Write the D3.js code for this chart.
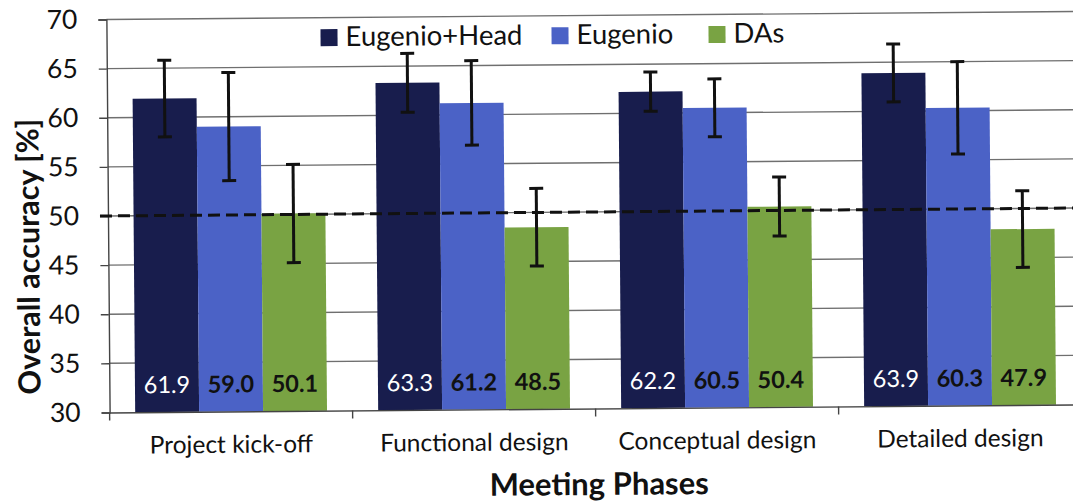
<!DOCTYPE html>
<html>
<head>
<meta charset="utf-8">
<script src="https://cdn.jsdelivr.net/npm/d3@7"></script>
<style>
  html, body { margin: 0; padding: 0; background: #fff; }
  svg { display: block; font-family: Lato, "Open Sans", sans-serif; }
</style>
</head>
<body>
<svg id="chart" width="1073" height="504"></svg>
<script>
// Meeting phases on the x axis, one bar per method in each phase
const phases = ["Project kick-off", "Functional design", "Conceptual design", "Detailed design"];
const seriesNames = ["Eugenio+Head", "Eugenio", "DAs"];

// Overall accuracy [%] per phase
const eugenioHead = [61.9, 63.3, 62.2, 63.9];
const eugenio = [59.0, 61.2, 60.5, 60.3];
const das = [50.1, 48.5, 50.4, 47.9];

// Half-length of the error bars per phase
const eugenioHeadErr = [3.9, 3.0, 2.0, 2.95];
const eugenioErr = [5.5, 4.3, 2.95, 4.7];
const dasErr = [5.0, 3.95, 3.0, 3.9];

const yTicks = [30, 35, 40, 45, 50, 55, 60, 65, 70];
const chanceLevel = 50;

const seriesColors = ["#181d4d", "#4b62c6", "#79a343"];
const labelColors = ["#ffffff", "#111111", "#111111"];
const labelWeights = ["normal", "bold", "bold"];

const seriesValues = [eugenioHead, eugenio, das];
const seriesErrors = [eugenioHeadErr, eugenioErr, dasErr];

const rows = [];
phases.forEach((p, i) => {
  seriesNames.forEach((s, j) => {
    rows.push({ phase: p, series: s, si: j, value: seriesValues[j][i], err: seriesErrors[j][i] });
  });
});

const plot = { left: 108, right: 1080, top: 15.5, bottom: 408.5 };

const svg = d3.select("#chart");
// the whole figure sits slightly tilted
const root = svg.append("g").attr("transform", "rotate(-0.47, 590, 215)");

const x = d3.scaleBand().domain(phases).range([plot.left, plot.right]).paddingInner(0).paddingOuter(0);
const xSub = d3.scaleBand().domain(seriesNames).range([0, x.bandwidth()]).paddingInner(0).paddingOuter(0.4);
const y = d3.scaleLinear().domain([30, 70]).range([plot.bottom, plot.top]);

// horizontal gridlines
root.append("g")
  .selectAll("line")
  .data(yTicks.filter(t => t > 30))
  .join("line")
  .attr("x1", plot.left).attr("x2", plot.right)
  .attr("y1", d => y(d)).attr("y2", d => y(d))
  .attr("stroke", "#6f6f6f").attr("stroke-width", 1.4);

// y axis
const yAxis = root.append("g")
  .attr("transform", `translate(${plot.left},0)`)
  .call(d3.axisLeft(y).tickValues(yTicks).tickSize(8).tickPadding(21).tickFormat(d3.format("d")));
yAxis.select(".domain").attr("stroke", "#444").attr("stroke-width", 1.4);
yAxis.selectAll(".tick line").attr("stroke", "#444").attr("stroke-width", 1.4);
yAxis.selectAll(".tick text")
  .attr("font-size", 26.5).attr("fill", "#111").attr("font-family", "Lato, sans-serif");

// bars
const groups = root.append("g")
  .selectAll("g")
  .data(rows)
  .join("g")
  .attr("transform", d => `translate(${x(d.phase) + xSub(d.series)},0)`);

groups.append("rect")
  .attr("x", 0)
  .attr("width", xSub.bandwidth())
  .attr("y", d => y(d.value))
  .attr("height", d => y(30) - y(d.value))
  .attr("fill", d => seriesColors[d.si]);

// chance level
root.append("line")
  .attr("x1", plot.left - 8).attr("x2", plot.right)
  .attr("y1", y(chanceLevel)).attr("y2", y(chanceLevel))
  .attr("stroke", "#111").attr("stroke-width", 3)
  .attr("stroke-dasharray", "12,6");

// error bars
const cx = xSub.bandwidth() / 2;
groups.append("line")
  .attr("x1", cx).attr("x2", cx)
  .attr("y1", d => y(d.value + d.err)).attr("y2", d => y(d.value - d.err))
  .attr("stroke", "#111").attr("stroke-width", 3);
groups.selectAll("line.cap")
  .data(d => [d.value + d.err, d.value - d.err])
  .join("line")
  .attr("class", "cap")
  .attr("x1", cx - 7).attr("x2", cx + 7)
  .attr("y1", d => y(d)).attr("y2", d => y(d))
  .attr("stroke", "#111").attr("stroke-width", 3);

// value labels near the base of each bar
groups.append("text")
  .attr("x", cx)
  .attr("y", y(30) - 19)
  .attr("text-anchor", "middle")
  .attr("font-size", 23.5)
  .attr("font-weight", d => labelWeights[d.si])
  .attr("fill", d => labelColors[d.si])
  .text(d => d.value.toFixed(1));

// x axis
const xAxis = root.append("g")
  .attr("transform", `translate(0,${plot.bottom})`)
  .call(d3.axisBottom(x).tickSize(0).tickPadding(24));
xAxis.select(".domain").attr("stroke", "#444").attr("stroke-width", 1.4);
xAxis.selectAll(".tick text")
  .attr("font-size", 24.5).attr("fill", "#111").attr("font-family", "Lato, sans-serif");
// tick marks between categories
root.append("g")
  .selectAll("line")
  .data(phases.map(p => x(p)).concat([plot.right]))
  .join("line")
  .attr("x1", d => d).attr("x2", d => d)
  .attr("y1", plot.bottom).attr("y2", plot.bottom + 8)
  .attr("stroke", "#444").attr("stroke-width", 1.4);

// axis titles
root.append("text")
  .attr("x", 597).attr("y", 495)
  .attr("text-anchor", "middle")
  .attr("font-size", 31).attr("font-weight", "bold").attr("fill", "#111")
  .text("Meeting Phases");

root.append("text")
  .attr("transform", "translate(39,252) rotate(-90)")
  .attr("text-anchor", "middle")
  .attr("font-size", 30.5).attr("font-weight", "bold").attr("fill", "#111")
  .text("Overall accuracy [%]");

// legend
const legendX = [322, 553, 710];
const legend = root.append("g")
  .selectAll("g")
  .data(seriesNames)
  .join("g")
  .attr("transform", (d, i) => `translate(${legendX[i]},27)`);
legend.append("rect")
  .attr("width", 17).attr("height", 17)
  .attr("fill", (d, i) => seriesColors[i]);
legend.append("text")
  .attr("x", 25).attr("y", 17)
  .attr("font-size", 27.5).attr("fill", "#111")
  .text(d => d);
</script>
</body>
</html>
